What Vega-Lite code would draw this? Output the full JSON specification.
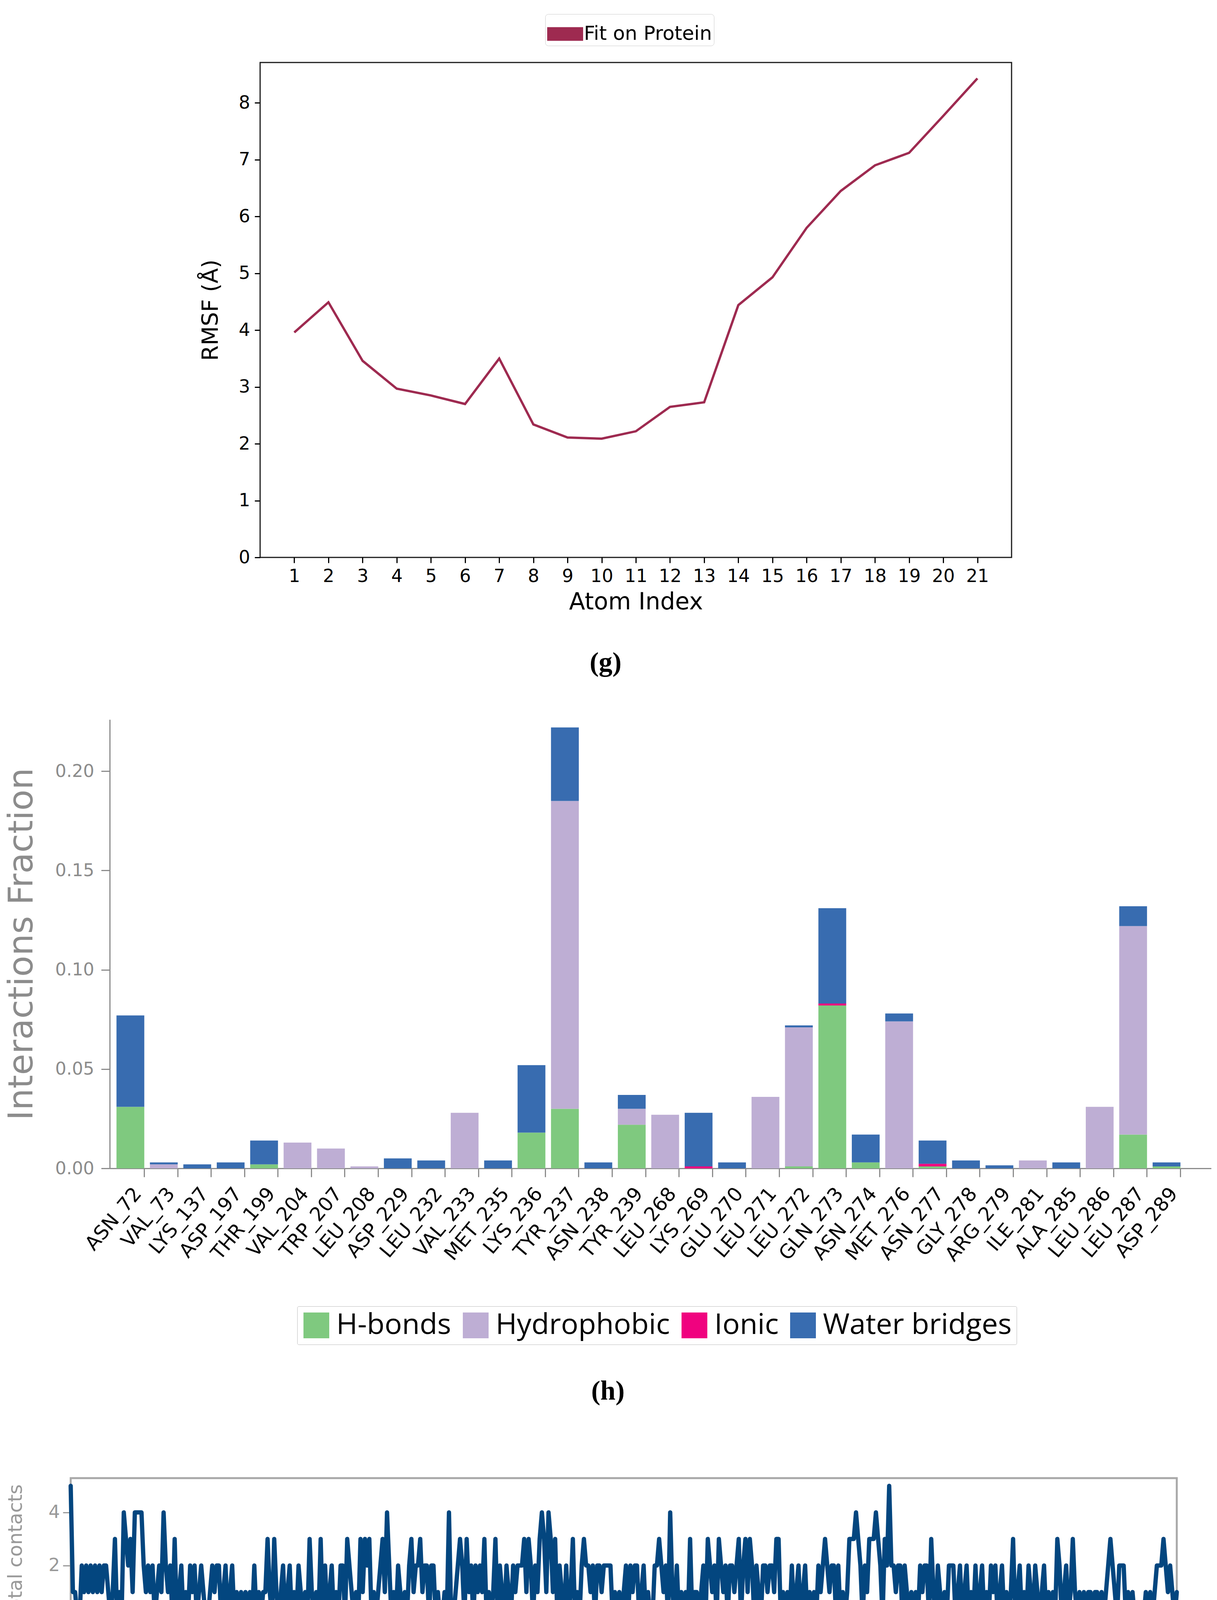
{
  "$schema": "https://vega.github.io/schema/vega-lite/v6.json",
  "padding": {"left": 8, "top": 34, "right": 4, "bottom": 4},
  "config": {"view": {"stroke": null}, "axis": {"grid": false}, "font": "DejaVu Sans"},
  "datasets": {
    "rmsf": [
      {"atom": 1, "rmsf": 3.96, "series": "Fit on Protein"},
      {"atom": 2, "rmsf": 4.49, "series": "Fit on Protein"},
      {"atom": 3, "rmsf": 3.46, "series": "Fit on Protein"},
      {"atom": 4, "rmsf": 2.97, "series": "Fit on Protein"},
      {"atom": 5, "rmsf": 2.85, "series": "Fit on Protein"},
      {"atom": 6, "rmsf": 2.70, "series": "Fit on Protein"},
      {"atom": 7, "rmsf": 3.50, "series": "Fit on Protein"},
      {"atom": 8, "rmsf": 2.34, "series": "Fit on Protein"},
      {"atom": 9, "rmsf": 2.11, "series": "Fit on Protein"},
      {"atom": 10, "rmsf": 2.09, "series": "Fit on Protein"},
      {"atom": 11, "rmsf": 2.22, "series": "Fit on Protein"},
      {"atom": 12, "rmsf": 2.65, "series": "Fit on Protein"},
      {"atom": 13, "rmsf": 2.73, "series": "Fit on Protein"},
      {"atom": 14, "rmsf": 4.44, "series": "Fit on Protein"},
      {"atom": 15, "rmsf": 4.93, "series": "Fit on Protein"},
      {"atom": 16, "rmsf": 5.80, "series": "Fit on Protein"},
      {"atom": 17, "rmsf": 6.45, "series": "Fit on Protein"},
      {"atom": 18, "rmsf": 6.90, "series": "Fit on Protein"},
      {"atom": 19, "rmsf": 7.12, "series": "Fit on Protein"},
      {"atom": 20, "rmsf": 7.77, "series": "Fit on Protein"},
      {"atom": 21, "rmsf": 8.43, "series": "Fit on Protein"}
    ],
    "interactions": [
      {"residue": "ASN_72", "type": "H-bonds", "fraction": 0.031},
      {"residue": "ASN_72", "type": "Water bridges", "fraction": 0.046},
      {"residue": "VAL_73", "type": "Hydrophobic", "fraction": 0.002},
      {"residue": "VAL_73", "type": "Water bridges", "fraction": 0.001},
      {"residue": "LYS_137", "type": "Water bridges", "fraction": 0.002},
      {"residue": "ASP_197", "type": "Water bridges", "fraction": 0.003},
      {"residue": "THR_199", "type": "H-bonds", "fraction": 0.002},
      {"residue": "THR_199", "type": "Water bridges", "fraction": 0.012},
      {"residue": "VAL_204", "type": "Hydrophobic", "fraction": 0.013},
      {"residue": "TRP_207", "type": "Hydrophobic", "fraction": 0.010},
      {"residue": "LEU_208", "type": "Hydrophobic", "fraction": 0.001},
      {"residue": "ASP_229", "type": "Water bridges", "fraction": 0.005},
      {"residue": "LEU_232", "type": "Water bridges", "fraction": 0.004},
      {"residue": "VAL_233", "type": "Hydrophobic", "fraction": 0.028},
      {"residue": "MET_235", "type": "Water bridges", "fraction": 0.004},
      {"residue": "LYS_236", "type": "H-bonds", "fraction": 0.018},
      {"residue": "LYS_236", "type": "Water bridges", "fraction": 0.034},
      {"residue": "TYR_237", "type": "H-bonds", "fraction": 0.030},
      {"residue": "TYR_237", "type": "Hydrophobic", "fraction": 0.155},
      {"residue": "TYR_237", "type": "Water bridges", "fraction": 0.037},
      {"residue": "ASN_238", "type": "Water bridges", "fraction": 0.003},
      {"residue": "TYR_239", "type": "H-bonds", "fraction": 0.022},
      {"residue": "TYR_239", "type": "Hydrophobic", "fraction": 0.008},
      {"residue": "TYR_239", "type": "Water bridges", "fraction": 0.007},
      {"residue": "LEU_268", "type": "Hydrophobic", "fraction": 0.027},
      {"residue": "LYS_269", "type": "Ionic", "fraction": 0.001},
      {"residue": "LYS_269", "type": "Water bridges", "fraction": 0.027},
      {"residue": "GLU_270", "type": "Water bridges", "fraction": 0.003},
      {"residue": "LEU_271", "type": "Hydrophobic", "fraction": 0.036},
      {"residue": "LEU_272", "type": "H-bonds", "fraction": 0.001},
      {"residue": "LEU_272", "type": "Hydrophobic", "fraction": 0.070},
      {"residue": "LEU_272", "type": "Water bridges", "fraction": 0.001},
      {"residue": "GLN_273", "type": "H-bonds", "fraction": 0.082},
      {"residue": "GLN_273", "type": "Ionic", "fraction": 0.001},
      {"residue": "GLN_273", "type": "Water bridges", "fraction": 0.048},
      {"residue": "ASN_274", "type": "H-bonds", "fraction": 0.003},
      {"residue": "ASN_274", "type": "Water bridges", "fraction": 0.014},
      {"residue": "MET_276", "type": "Hydrophobic", "fraction": 0.074},
      {"residue": "MET_276", "type": "Water bridges", "fraction": 0.004},
      {"residue": "ASN_277", "type": "H-bonds", "fraction": 0.001},
      {"residue": "ASN_277", "type": "Ionic", "fraction": 0.0013},
      {"residue": "ASN_277", "type": "Water bridges", "fraction": 0.0117},
      {"residue": "GLY_278", "type": "Water bridges", "fraction": 0.004},
      {"residue": "ARG_279", "type": "Water bridges", "fraction": 0.0015},
      {"residue": "ILE_281", "type": "Hydrophobic", "fraction": 0.004},
      {"residue": "ALA_285", "type": "Water bridges", "fraction": 0.003},
      {"residue": "LEU_286", "type": "Hydrophobic", "fraction": 0.031},
      {"residue": "LEU_287", "type": "H-bonds", "fraction": 0.017},
      {"residue": "LEU_287", "type": "Hydrophobic", "fraction": 0.105},
      {"residue": "LEU_287", "type": "Water bridges", "fraction": 0.010},
      {"residue": "ASP_289", "type": "H-bonds", "fraction": 0.001},
      {"residue": "ASP_289", "type": "Water bridges", "fraction": 0.002}
    ],
    "contacts": [
      {"t":0.0,"c":5},{"t":0.1,"c":1},{"t":0.2,"c":1},{"t":0.3,"c":0},{"t":0.4,"c":0},{"t":0.5,"c":2},{"t":0.6,"c":1},{"t":0.7,"c":2},{"t":0.8,"c":1},{"t":0.9,"c":2},
      {"t":1.0,"c":1},{"t":1.1,"c":2},{"t":1.2,"c":1},{"t":1.3,"c":2},{"t":1.4,"c":1},{"t":1.5,"c":2},{"t":1.6,"c":2},{"t":1.7,"c":1},{"t":1.8,"c":0},{"t":1.9,"c":1},
      {"t":2.0,"c":3},{"t":2.1,"c":0},{"t":2.2,"c":1},{"t":2.3,"c":0},{"t":2.4,"c":4},{"t":2.5,"c":3},{"t":2.6,"c":2},{"t":2.7,"c":3},{"t":2.8,"c":1},{"t":2.9,"c":4},
      {"t":3.0,"c":4},{"t":3.1,"c":4},{"t":3.2,"c":4},{"t":3.3,"c":2},{"t":3.4,"c":1},{"t":3.5,"c":2},{"t":3.6,"c":1},{"t":3.7,"c":2},{"t":3.8,"c":0},{"t":3.9,"c":1},
      {"t":4.0,"c":2},{"t":4.1,"c":1},{"t":4.2,"c":4},{"t":4.3,"c":2},{"t":4.4,"c":1},{"t":4.5,"c":2},{"t":4.6,"c":0},{"t":4.7,"c":3},{"t":4.8,"c":0},{"t":4.9,"c":1},
      {"t":5.0,"c":2},{"t":5.1,"c":0},{"t":5.2,"c":1},{"t":5.3,"c":0},{"t":5.4,"c":2},{"t":5.5,"c":1},{"t":5.6,"c":2},{"t":5.7,"c":0},{"t":5.8,"c":1},{"t":5.9,"c":2},
      {"t":6.0,"c":1},{"t":6.1,"c":0},{"t":6.2,"c":0},{"t":6.3,"c":1},{"t":6.4,"c":2},{"t":6.5,"c":1},{"t":6.6,"c":2},{"t":6.7,"c":2},{"t":6.8,"c":0},{"t":6.9,"c":1},
      {"t":7.0,"c":2},{"t":7.1,"c":0},{"t":7.2,"c":1},{"t":7.3,"c":2},{"t":7.4,"c":0},{"t":7.5,"c":1},{"t":7.6,"c":0},{"t":7.7,"c":1},{"t":7.8,"c":0},{"t":7.9,"c":1},
      {"t":8.0,"c":0},{"t":8.1,"c":1},{"t":8.2,"c":0},{"t":8.3,"c":2},{"t":8.4,"c":0},{"t":8.5,"c":1},{"t":8.6,"c":0},{"t":8.7,"c":1},{"t":8.8,"c":1},{"t":8.9,"c":3},
      {"t":9.0,"c":1},{"t":9.1,"c":0},{"t":9.2,"c":3},{"t":9.3,"c":1},{"t":9.4,"c":0},{"t":9.5,"c":1},{"t":9.6,"c":2},{"t":9.7,"c":0},{"t":9.8,"c":1},{"t":9.9,"c":2},
      {"t":10.0,"c":0},{"t":10.1,"c":1},{"t":10.2,"c":0},{"t":10.3,"c":2},{"t":10.4,"c":1},{"t":10.5,"c":0},{"t":10.6,"c":1},{"t":10.7,"c":0},{"t":10.8,"c":3},{"t":10.9,"c":1},
      {"t":11.0,"c":0},{"t":11.1,"c":1},{"t":11.2,"c":0},{"t":11.3,"c":3},{"t":11.4,"c":0},{"t":11.5,"c":2},{"t":11.6,"c":0},{"t":11.7,"c":1},{"t":11.8,"c":2},{"t":11.9,"c":0},
      {"t":12.0,"c":1},{"t":12.1,"c":0},{"t":12.2,"c":2},{"t":12.3,"c":2},{"t":12.4,"c":0},{"t":12.5,"c":3},{"t":12.6,"c":2},{"t":12.7,"c":1},{"t":12.8,"c":0},{"t":12.9,"c":1},
      {"t":13.0,"c":0},{"t":13.1,"c":3},{"t":13.2,"c":1},{"t":13.3,"c":3},{"t":13.4,"c":2},{"t":13.5,"c":3},{"t":13.6,"c":0},{"t":13.7,"c":1},{"t":13.8,"c":0},{"t":13.9,"c":1},
      {"t":14.0,"c":2},{"t":14.1,"c":3},{"t":14.2,"c":1},{"t":14.3,"c":4},{"t":14.4,"c":2},{"t":14.5,"c":0},{"t":14.6,"c":1},{"t":14.7,"c":0},{"t":14.8,"c":2},{"t":14.9,"c":1},
      {"t":15.0,"c":0},{"t":15.1,"c":1},{"t":15.2,"c":0},{"t":15.3,"c":2},{"t":15.4,"c":3},{"t":15.5,"c":1},{"t":15.6,"c":2},{"t":15.7,"c":2},{"t":15.8,"c":3},{"t":15.9,"c":1},
      {"t":16.0,"c":2},{"t":16.1,"c":2},{"t":16.2,"c":0},{"t":16.3,"c":2},{"t":16.4,"c":2},{"t":16.5,"c":0},{"t":16.6,"c":1},{"t":16.7,"c":0},{"t":16.8,"c":0},{"t":16.9,"c":1},
      {"t":17.0,"c":0},{"t":17.1,"c":4},{"t":17.2,"c":0},{"t":17.3,"c":0},{"t":17.4,"c":1},{"t":17.5,"c":2},{"t":17.6,"c":3},{"t":17.7,"c":2},{"t":17.8,"c":0},{"t":17.9,"c":3},
      {"t":18.0,"c":1},{"t":18.1,"c":2},{"t":18.2,"c":0},{"t":18.3,"c":2},{"t":18.4,"c":1},{"t":18.5,"c":2},{"t":18.6,"c":1},{"t":18.7,"c":3},{"t":18.8,"c":0},{"t":18.9,"c":1},
      {"t":19.0,"c":0},{"t":19.1,"c":1},{"t":19.2,"c":3},{"t":19.3,"c":0},{"t":19.4,"c":2},{"t":19.5,"c":1},{"t":19.6,"c":0},{"t":19.7,"c":2},{"t":19.8,"c":1},{"t":19.9,"c":0},
      {"t":20.0,"c":2},{"t":20.1,"c":1},{"t":20.2,"c":2},{"t":20.3,"c":2},{"t":20.4,"c":2},{"t":20.5,"c":3},{"t":20.6,"c":1},{"t":20.7,"c":3},{"t":20.8,"c":2},{"t":20.9,"c":0},
      {"t":21.0,"c":2},{"t":21.1,"c":1},{"t":21.2,"c":3},{"t":21.3,"c":4},{"t":21.4,"c":3},{"t":21.5,"c":1},{"t":21.6,"c":4},{"t":21.7,"c":3},{"t":21.8,"c":1},{"t":21.9,"c":3},
      {"t":22.0,"c":0},{"t":22.1,"c":2},{"t":22.2,"c":1},{"t":22.3,"c":0},{"t":22.4,"c":2},{"t":22.5,"c":0},{"t":22.6,"c":1},{"t":22.7,"c":3},{"t":22.8,"c":0},{"t":22.9,"c":1},
      {"t":23.0,"c":0},{"t":23.1,"c":2},{"t":23.2,"c":3},{"t":23.3,"c":2},{"t":23.4,"c":2},{"t":23.5,"c":1},{"t":23.6,"c":2},{"t":23.7,"c":0},{"t":23.8,"c":2},{"t":23.9,"c":2},
      {"t":24.0,"c":1},{"t":24.1,"c":2},{"t":24.2,"c":2},{"t":24.3,"c":2},{"t":24.4,"c":2},{"t":24.5,"c":0},{"t":24.6,"c":1},{"t":24.7,"c":0},{"t":24.8,"c":1},{"t":24.9,"c":0},
      {"t":25.0,"c":1},{"t":25.1,"c":2},{"t":25.2,"c":0},{"t":25.3,"c":2},{"t":25.4,"c":1},{"t":25.5,"c":2},{"t":25.6,"c":2},{"t":25.7,"c":0},{"t":25.8,"c":1},{"t":25.9,"c":2},
      {"t":26.0,"c":0},{"t":26.1,"c":1},{"t":26.2,"c":0},{"t":26.3,"c":0},{"t":26.4,"c":2},{"t":26.5,"c":2},{"t":26.6,"c":3},{"t":26.7,"c":2},{"t":26.8,"c":1},{"t":26.9,"c":2},
      {"t":27.0,"c":0},{"t":27.1,"c":4},{"t":27.2,"c":1},{"t":27.3,"c":0},{"t":27.4,"c":2},{"t":27.5,"c":0},{"t":27.6,"c":1},{"t":27.7,"c":0},{"t":27.8,"c":1},{"t":27.9,"c":0},
      {"t":28.0,"c":3},{"t":28.1,"c":0},{"t":28.2,"c":1},{"t":28.3,"c":1},{"t":28.4,"c":0},{"t":28.5,"c":1},{"t":28.6,"c":2},{"t":28.7,"c":0},{"t":28.8,"c":3},{"t":28.9,"c":2},
      {"t":29.0,"c":1},{"t":29.1,"c":2},{"t":29.2,"c":0},{"t":29.3,"c":3},{"t":29.4,"c":2},{"t":29.5,"c":1},{"t":29.6,"c":2},{"t":29.7,"c":0},{"t":29.8,"c":2},{"t":29.9,"c":2},
      {"t":30.0,"c":1},{"t":30.1,"c":2},{"t":30.2,"c":3},{"t":30.3,"c":0},{"t":30.4,"c":2},{"t":30.5,"c":3},{"t":30.6,"c":1},{"t":30.7,"c":3},{"t":30.8,"c":2},{"t":30.9,"c":0},
      {"t":31.0,"c":2},{"t":31.1,"c":1},{"t":31.2,"c":0},{"t":31.3,"c":2},{"t":31.4,"c":2},{"t":31.5,"c":1},{"t":31.6,"c":2},{"t":31.7,"c":2},{"t":31.8,"c":1},{"t":31.9,"c":3},
      {"t":32.0,"c":3},{"t":32.1,"c":0},{"t":32.2,"c":1},{"t":32.3,"c":0},{"t":32.4,"c":1},{"t":32.5,"c":0},{"t":32.6,"c":2},{"t":32.7,"c":0},{"t":32.8,"c":1},{"t":32.9,"c":2},
      {"t":33.0,"c":0},{"t":33.1,"c":1},{"t":33.2,"c":2},{"t":33.3,"c":0},{"t":33.4,"c":1},{"t":33.5,"c":0},{"t":33.6,"c":1},{"t":33.7,"c":0},{"t":33.8,"c":2},{"t":33.9,"c":1},
      {"t":34.0,"c":2},{"t":34.1,"c":3},{"t":34.2,"c":2},{"t":34.3,"c":1},{"t":34.4,"c":2},{"t":34.5,"c":2},{"t":34.6,"c":0},{"t":34.7,"c":2},{"t":34.8,"c":0},{"t":34.9,"c":1},
      {"t":35.0,"c":0},{"t":35.1,"c":1},{"t":35.2,"c":3},{"t":35.3,"c":3},{"t":35.4,"c":3},{"t":35.5,"c":4},{"t":35.6,"c":3},{"t":35.7,"c":2},{"t":35.8,"c":0},{"t":35.9,"c":2},
      {"t":36.0,"c":1},{"t":36.1,"c":3},{"t":36.2,"c":3},{"t":36.3,"c":3},{"t":36.4,"c":4},{"t":36.5,"c":3},{"t":36.6,"c":2},{"t":36.7,"c":0},{"t":36.8,"c":3},{"t":36.9,"c":2},
      {"t":37.0,"c":5},{"t":37.1,"c":2},{"t":37.2,"c":2},{"t":37.3,"c":1},{"t":37.4,"c":2},{"t":37.5,"c":2},{"t":37.6,"c":0},{"t":37.7,"c":2},{"t":37.8,"c":1},{"t":37.9,"c":0},
      {"t":38.0,"c":1},{"t":38.1,"c":0},{"t":38.2,"c":1},{"t":38.3,"c":0},{"t":38.4,"c":2},{"t":38.5,"c":1},{"t":38.6,"c":2},{"t":38.7,"c":2},{"t":38.8,"c":0},{"t":38.9,"c":3},
      {"t":39.0,"c":1},{"t":39.1,"c":0},{"t":39.2,"c":2},{"t":39.3,"c":1},{"t":39.4,"c":0},{"t":39.5,"c":1},{"t":39.6,"c":0},{"t":39.7,"c":2},{"t":39.8,"c":2},{"t":39.9,"c":2},
      {"t":40.0,"c":0},{"t":40.1,"c":1},{"t":40.2,"c":2},{"t":40.3,"c":0},{"t":40.4,"c":1},{"t":40.5,"c":2},{"t":40.6,"c":0},{"t":40.7,"c":1},{"t":40.8,"c":0},{"t":40.9,"c":2},
      {"t":41.0,"c":0},{"t":41.1,"c":1},{"t":41.2,"c":2},{"t":41.3,"c":0},{"t":41.4,"c":1},{"t":41.5,"c":0},{"t":41.6,"c":2},{"t":41.7,"c":1},{"t":41.8,"c":2},{"t":41.9,"c":0},
      {"t":42.0,"c":1},{"t":42.1,"c":2},{"t":42.2,"c":0},{"t":42.3,"c":1},{"t":42.4,"c":0},{"t":42.5,"c":1},{"t":42.6,"c":3},{"t":42.7,"c":0},{"t":42.8,"c":1},{"t":42.9,"c":2},
      {"t":43.0,"c":0},{"t":43.1,"c":1},{"t":43.2,"c":0},{"t":43.3,"c":2},{"t":43.4,"c":1},{"t":43.5,"c":0},{"t":43.6,"c":2},{"t":43.7,"c":1},{"t":43.8,"c":0},{"t":43.9,"c":1},
      {"t":44.0,"c":2},{"t":44.1,"c":0},{"t":44.2,"c":1},{"t":44.3,"c":0},{"t":44.4,"c":1},{"t":44.5,"c":0},{"t":44.6,"c":3},{"t":44.7,"c":2},{"t":44.8,"c":0},{"t":44.9,"c":1},
      {"t":45.0,"c":2},{"t":45.1,"c":0},{"t":45.2,"c":1},{"t":45.3,"c":3},{"t":45.4,"c":1},{"t":45.5,"c":0},{"t":45.6,"c":1},{"t":45.7,"c":0},{"t":45.8,"c":1},{"t":45.9,"c":0},
      {"t":46.0,"c":1},{"t":46.1,"c":1},{"t":46.2,"c":0},{"t":46.3,"c":1},{"t":46.4,"c":1},{"t":46.5,"c":0},{"t":46.6,"c":1},{"t":46.7,"c":0},{"t":46.8,"c":1},{"t":46.9,"c":2},
      {"t":47.0,"c":3},{"t":47.1,"c":2},{"t":47.2,"c":1},{"t":47.3,"c":0},{"t":47.4,"c":2},{"t":47.5,"c":2},{"t":47.6,"c":2},{"t":47.7,"c":0},{"t":47.8,"c":1},{"t":47.9,"c":0},
      {"t":48.0,"c":1},{"t":48.1,"c":0},{"t":48.2,"c":0},{"t":48.3,"c":0},{"t":48.4,"c":0},{"t":48.5,"c":0},{"t":48.6,"c":1},{"t":48.7,"c":0},{"t":48.8,"c":1},{"t":48.9,"c":0},
      {"t":49.0,"c":1},{"t":49.1,"c":2},{"t":49.2,"c":2},{"t":49.3,"c":2},{"t":49.4,"c":3},{"t":49.5,"c":2},{"t":49.6,"c":1},{"t":49.7,"c":2},{"t":49.8,"c":1},{"t":49.9,"c":0},
      {"t":50.0,"c":1}
    ]
  },
  "spacing": 0,
  "resolve": {"scale": {"color": "independent"}, "legend": {"color": "independent"}},
  "vconcat": [
    {
      "spacing": 0,
      "resolve": {"scale": {"color": "independent"}, "legend": {"color": "independent"}},
      "hconcat": [
        {"data": {"values": []}, "mark": "point", "width": 501, "height": 1},
        {
          "width": 1924,
          "height": 1267,
          "data": {"name": "rmsf"},
          "view": {"stroke": "#1a1a1a", "strokeWidth": 3},
          "title": {"text": "(g)", "orient": "bottom", "anchor": "middle", "frame": "bounds", "font": "Liberation Serif", "fontSize": 70, "fontWeight": "bold", "color": "#000000", "offset": 92},
          "mark": {"type": "line", "strokeWidth": 6},
          "encoding": {
            "x": {
              "field": "atom",
              "type": "quantitative",
              "scale": {"domain": [0, 22], "nice": false, "zero": false},
              "axis": {
                "values": [1, 2, 3, 4, 5, 6, 7, 8, 9, 10, 11, 12, 13, 14, 15, 16, 17, 18, 19, 20, 21],
                "title": "Atom Index",
                "domain": false,
                "labelOverlap": false,
                "labelFlush": false,
                "labelFontSize": 46,
                "labelColor": "#000000",
                "labelPadding": 12,
                "tickColor": "#000000",
                "tickSize": 14,
                "tickWidth": 3,
                "titleFontSize": 60,
                "titleFontWeight": "normal",
                "titleColor": "#000000",
                "titlePadding": 14
              }
            },
            "y": {
              "field": "rmsf",
              "type": "quantitative",
              "scale": {"domain": [0, 8.71], "nice": false},
              "axis": {
                "values": [0, 1, 2, 3, 4, 5, 6, 7, 8],
                "title": "RMSF (Å)",
                "domain": false,
                "labelFontSize": 46,
                "labelColor": "#000000",
                "labelPadding": 12,
                "tickColor": "#000000",
                "tickSize": 14,
                "tickWidth": 3,
                "titleFontSize": 57,
                "titleFontWeight": "normal",
                "titleColor": "#000000",
                "minExtent": 75,
                "maxExtent": 75,
                "titlePadding": 22
              }
            },
            "color": {
              "field": "series",
              "type": "nominal",
              "scale": {"range": ["#9e2a50"]},
              "legend": {
                "orient": "none",
                "legendX": 730,
                "legendY": -124,
                "direction": "horizontal",
                "title": null,
                "labelFontSize": 50,
                "labelColor": "#000000",
                "labelLimit": 0,
                "labelOffset": 2,
                "symbolType": "M-1,-0.38H1V0.38H-1Z",
                "symbolSize": 8464,
                "symbolStrokeWidth": 0,
                "symbolFillColor": "#9e2a50",
                "strokeColor": "#cccccc",
                "fillColor": "#ffffff",
                "padding": 5,
                "cornerRadius": 8,
                "encode": {"symbols": {"update": {"fill": {"value": "#9e2a50"}, "strokeWidth": {"value": 0}}}}
              }
            }
          }
        }
      ]
    },
    {"data": {"values": []}, "mark": "point", "width": 1, "height": 108},
    {
      "spacing": 0,
      "resolve": {"scale": {"color": "independent"}, "legend": {"color": "independent"}},
      "hconcat": [
        {"data": {"values": []}, "mark": "point", "width": 4, "height": 1},
        {
          "width": 2820,
          "height": 1149,
          "data": {"name": "interactions"},
          "title": {"text": "(h)", "orient": "bottom", "anchor": "middle", "frame": "bounds", "font": "Liberation Serif", "fontSize": 70, "fontWeight": "bold", "color": "#000000", "offset": 85},
          "mark": {"type": "bar"},
          "encoding": {
            "x": {
              "field": "residue",
              "type": "nominal",
              "sort": null,
              "scale": {"paddingInner": 0.168, "paddingOuter": 0.56, "align": 0.18},
              "axis": {
                "title": null,
                "labelAngle": -50,
                "labelAlign": "right",
                "labelBaseline": "top",
                "labelLimit": 0,
                "labelFontSize": 50,
                "labelColor": "#000000",
                "labelPadding": 18,
                "tickSize": 22,
                "tickWidth": 3,
                "tickColor": "#8c8c8c",
                "domainColor": "#8c8c8c",
                "domainWidth": 3,
                "bandPosition": 1
              }
            },
            "y": {
              "field": "fraction",
              "type": "quantitative",
              "stack": "zero",
              "scale": {"domain": [0, 0.226], "nice": false},
              "axis": {
                "values": [0, 0.05, 0.1, 0.15, 0.2],
                "format": ".2f",
                "title": "Interactions Fraction",
                "titleFontSize": 88,
                "titleFontWeight": "normal",
                "titleColor": "#8c8c8c",
                "labelFontSize": 45,
                "labelColor": "#8c8c8c",
                "labelPadding": 18,
                "tickColor": "#8c8c8c",
                "tickSize": 22,
                "tickWidth": 3,
                "domainColor": "#8c8c8c",
                "domainWidth": 3,
                "minExtent": 150,
                "maxExtent": 150,
                "titlePadding": 31
              }
            },
            "color": {
              "field": "type",
              "type": "nominal",
              "scale": {
                "domain": ["H-bonds", "Hydrophobic", "Ionic", "Water bridges"],
                "range": ["#7fc97f", "#beaed4", "#f0027f", "#386cb0"]
              },
              "legend": {
                "orient": "none",
                "legendX": 480,
                "legendY": 1502,
                "direction": "horizontal",
                "title": null,
                "labelFont": "Open Sans",
                "labelFontSize": 74,
                "labelColor": "#000000",
                "labelLimit": 0,
                "labelOffset": 14,
                "columnPadding": 25,
                "symbolType": "square",
                "symbolSize": 4356,
                "symbolStrokeWidth": 0,
                "strokeColor": "#bbbbbb",
                "fillColor": "#ffffff",
                "padding": 12,
                "cornerRadius": 4
              }
            },
            "order": {"field": "type", "sort": "ascending"}
          }
        }
      ]
    },
    {"data": {"values": []}, "mark": "point", "width": 1, "height": 184},
    {
      "spacing": 0,
      "hconcat": [
        {"data": {"values": []}, "mark": "point", "width": 4, "height": 1},
        {
          "width": 2832,
          "height": 376,
          "data": {"name": "contacts"},
          "view": {"stroke": "#a8a8a8", "strokeWidth": 5},
          "title": {"text": "(i)", "orient": "bottom", "anchor": "middle", "frame": "bounds", "font": "Liberation Serif", "fontSize": 70, "fontWeight": "bold", "color": "#000000", "offset": 158, "dx": 30},
          "mark": {"type": "line", "color": "#03467f", "strokeWidth": 11, "strokeJoin": "round", "strokeCap": "round"},
          "encoding": {
            "x": {
              "field": "t",
              "type": "quantitative",
              "scale": {"domain": [0, 50], "nice": false, "zero": false},
              "axis": {
                "values": [0, 10, 20, 30, 40, 50],
                "title": null,
                "domain": false,
                "labelFlush": false,
                "labelColor": "#999999",
                "labelFontSize": 52,
                "labelPadding": 12,
                "tickColor": "#999999",
                "tickSize": 20,
                "tickWidth": 3
              }
            },
            "y": {
              "field": "c",
              "type": "quantitative",
              "scale": {"domain": [-0.24, 5.29], "nice": false, "zero": false},
              "axis": {
                "values": [0, 2, 4],
                "title": "Total contacts",
                "domain": false,
                "titleColor": "#999999",
                "titleFontSize": 50,
                "titleFontWeight": "normal",
                "labelColor": "#999999",
                "labelFontSize": 46,
                "labelPadding": 8,
                "tickColor": "#999999",
                "tickSize": 20,
                "tickWidth": 3,
                "minExtent": 90,
                "maxExtent": 90,
                "titlePadding": 26
              }
            }
          }
        }
      ]
    }
  ]
}
